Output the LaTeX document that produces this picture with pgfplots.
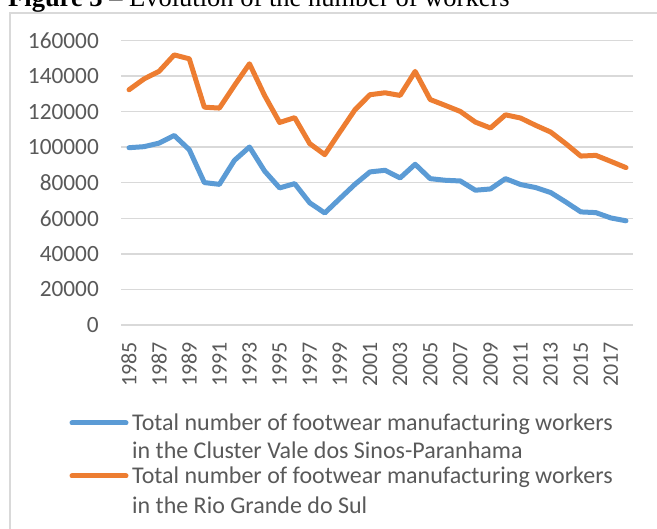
\documentclass[border=0pt]{standalone}
\usepackage{pgfplots}
\pgfplotsset{compat=1.18}
\usepackage{fontspec}
\setmainfont{Carlito}
\newfontfamily\titlefont{Liberation Serif}
\definecolor{cblue}{HTML}{5B9BD5}
\definecolor{corange}{HTML}{ED7D31}
\definecolor{cgrid}{HTML}{D9D9D9}
\definecolor{ctext}{HTML}{595959}
\begin{document}
\begin{tikzpicture}[x=1pt,y=1pt]
\useasboundingbox (0,0) rectangle (657,-529);
\clip (0,0) rectangle (657,-529);
\node[anchor=base west, inner sep=0, font=\titlefont\fontsize{26.5}{30}\selectfont] at (8,-7) {\textbf{Figure 3} – Evolution of the number of workers};
\draw[cgrid, line width=1.5] (10,-600) -- (10,-13) -- (700,-13);
\begin{axis}[
  at={(121.5pt,-325pt)}, anchor=south west,
  scale only axis, width=512pt, height=284.5pt,
  xmin=1984.5, xmax=2018.5, ymin=0, ymax=160000,
  ytick={0,20000,...,160000},
  xtick={1985,1987,...,2017},
  ymajorgrids, major grid style={cgrid, line width=1.5pt},
  axis line style={draw=none},
  major tick length=0pt,
  scaled y ticks=false,
  ticklabel style={font=\fontsize{22}{26}\selectfont, text=ctext, inner sep=0pt},
  /pgf/number format/assume math mode=true,
  /pgf/number format/set thousands separator={},
  /pgf/number format/fixed,
  xticklabel style={rotate=90, anchor=east},
  yticklabel style={anchor=east, font=\fontsize{23.3}{27}\selectfont},
  xticklabel shift=17pt,
  yticklabel shift=22.5pt,
  clip=false,
]
\addplot[cblue, line width=5pt, line join=round, line cap=round] coordinates {
(1985,99700) (1986,100300) (1987,102300) (1988,106600) (1989,98600)
(1990,80100) (1991,79100) (1992,92600) (1993,100100) (1994,86600)
(1995,77100) (1996,79500) (1997,68700) (1998,63000) (1999,71100)
(2000,79100) (2001,86100) (2002,87000) (2003,82700) (2004,90400)
(2005,82300) (2006,81400) (2007,81000) (2008,75800) (2009,76500)
(2010,82300) (2011,79000) (2012,77300) (2013,74500) (2014,69200)
(2015,63600) (2016,63200) (2017,60200) (2018,58600)};
\addplot[corange, line width=5pt, line join=round, line cap=round] coordinates {
(1985,132300) (1986,138400) (1987,142700) (1988,151900) (1989,149700)
(1990,122500) (1991,122000) (1992,134700) (1993,146900) (1994,129100)
(1995,113900) (1996,116600) (1997,102000) (1998,95800) (1999,108500)
(2000,121000) (2001,129500) (2002,130600) (2003,129100) (2004,142600)
(2005,126800) (2006,123500) (2007,120100) (2008,114100) (2009,110800)
(2010,118200) (2011,116400) (2012,112300) (2013,108500) (2014,102000)
(2015,95000) (2016,95400) (2017,92000) (2018,88500)};
\end{axis}
\draw[cblue, line width=5, line cap=round] (72,-423) -- (126,-423);
\draw[corange, line width=5, line cap=round] (72,-476) -- (126,-476);
\begin{scope}[every node/.style={anchor=base west, inner sep=0, text=ctext, font=\fontsize{24}{28}\selectfont}]
\node at (132,-431) {Total number of footwear manufacturing workers};
\node at (132,-459) {in the Cluster Vale dos Sinos-Paranhama};
\node at (132,-484) {Total number of footwear manufacturing workers};
\node at (132,-514) {in the Rio Grande do Sul};
\end{scope}
\end{tikzpicture}
\end{document}
